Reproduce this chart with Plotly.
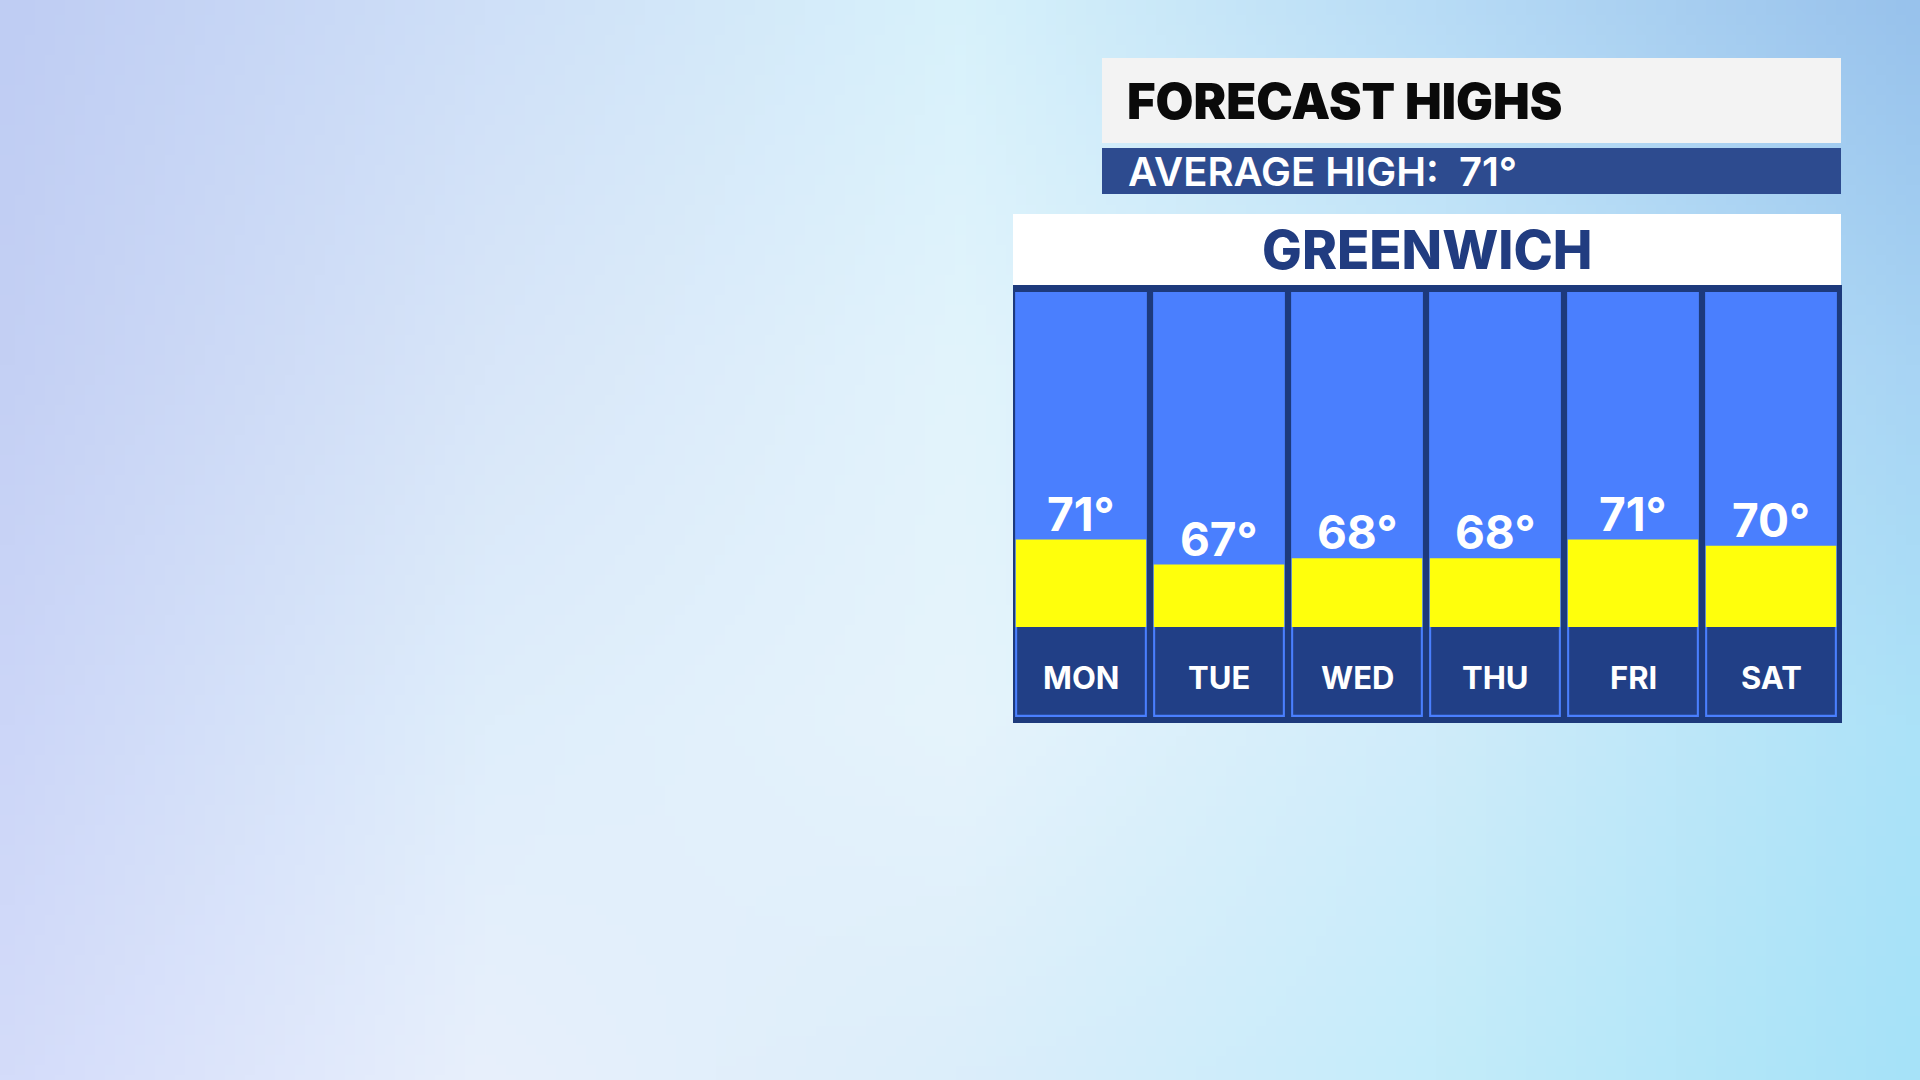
import base64
import struct
import zlib

import numpy as np
import plotly.graph_objects as go

# ---------------- data ----------------
days = ["MON", "TUE", "WED", "THU", "FRI", "SAT"]
highs = [71, 67, 68, 68, 71, 70]
title_text = "FORECAST HIGHS"
subtitle_text = "AVERAGE HIGH:\u00a0\u00a071°"
location_text = "GREENWICH"

# ---------------- style / layout constants ----------------
W, H = 1920, 1080
Y_FLOOR = 57.0      # temperature at the bottom of the yellow bars
Y_CEIL = 110.6      # temperature at the top of the blue columns

BLUE = "#4a7ffe"
YELLOW = "#ffff0c"
NAVY = "#213f86"
FRAME = "#1d3a7c"
SUB_BAR = "#2d4b8f"
GREEN_TXT = "#213c80"
FONT = "Inter"


def px(x0, x1=None):
    return x0 / W if x1 is None else (x0 / W, x1 / W)


def py(y):
    return 1 - y / H


# ---------------- background gradient image ----------------
bg_ctrl = [
    ["#bfcdf3", "#cfe0f8", "#d8f2fb", "#b8dcf6", "#98c2ec"],
    ["#c4d0f4", "#d8e6f9", "#e2f4fc", "#c8eafa", "#a8d4f4"],
    ["#ccd6f8", "#dfeefb", "#e6f4fc", "#d0ecfa", "#ace2f8"],
    ["#d4dcfa", "#e8f0fc", "#dceefa", "#c4ecfa", "#a6e2f8"],
]


def hex2rgb(h):
    h = h.lstrip("#")
    return [int(h[i:i + 2], 16) for i in (0, 2, 4)]


ctrl = np.array([[hex2rgb(c) for c in row] for row in bg_ctrl], dtype=float)
gh, gw = 108, 192
ys = np.linspace(0, ctrl.shape[0] - 1, gh)
xs = np.linspace(0, ctrl.shape[1] - 1, gw)
y0 = np.clip(np.floor(ys).astype(int), 0, ctrl.shape[0] - 2)
x0 = np.clip(np.floor(xs).astype(int), 0, ctrl.shape[1] - 2)
fy = (ys - y0)[:, None, None]
fx = (xs - x0)[None, :, None]
c00 = ctrl[y0][:, x0]
c01 = ctrl[y0][:, x0 + 1]
c10 = ctrl[y0 + 1][:, x0]
c11 = ctrl[y0 + 1][:, x0 + 1]
img = (c00 * (1 - fx) * (1 - fy) + c01 * fx * (1 - fy)
       + c10 * (1 - fx) * fy + c11 * fx * fy)
img = np.clip(img, 0, 255).astype(np.uint8)


def png_uri(arr):
    h, w, _ = arr.shape
    raw = b"".join(b"\x00" + arr[r].tobytes() for r in range(h))

    def chunk(t, d):
        return (struct.pack(">I", len(d)) + t + d
                + struct.pack(">I", zlib.crc32(t + d) & 0xFFFFFFFF))

    data = (b"\x89PNG\r\n\x1a\n"
            + chunk(b"IHDR", struct.pack(">IIBBBBB", w, h, 8, 2, 0, 0, 0))
            + chunk(b"IDAT", zlib.compress(raw, 9))
            + chunk(b"IEND", b""))
    return "data:image/png;base64," + base64.b64encode(data).decode()


# ---------------- figure ----------------
fig = go.Figure()

n = len(days)
# blue column backgrounds (top panel)
fig.add_trace(go.Bar(
    x=days, y=[Y_CEIL - Y_FLOOR] * n, base=[Y_FLOOR] * n,
    marker=dict(color=BLUE, line=dict(width=0)), width=0.955,
    hoverinfo="skip", showlegend=False, xaxis="x", yaxis="y"))
# yellow high-temperature bars
fig.add_trace(go.Bar(
    x=days, y=[h - Y_FLOOR for h in highs], base=[Y_FLOOR] * n,
    marker=dict(color=YELLOW, line=dict(width=0)), width=0.945,
    hovertemplate="%{x}: %{customdata}°<extra></extra>", customdata=highs,
    showlegend=False, xaxis="x", yaxis="y"))
# label cells (bottom panel)
fig.add_trace(go.Bar(
    x=days, y=[1] * n, base=[0] * n,
    marker=dict(color=BLUE, line=dict(width=0)), width=0.955,
    hoverinfo="skip", showlegend=False, xaxis="x2", yaxis="y2"))
fig.add_trace(go.Bar(
    x=days, y=[0.975] * n, base=[0.025] * n,
    marker=dict(color=NAVY, line=dict(width=0)), width=0.925,
    hoverinfo="skip", showlegend=False, xaxis="x2", yaxis="y2"))

annotations = []
for d, h in zip(days, highs):
    annotations.append(dict(
        x=d, y=h, xref="x", yref="y", text=f"{h}°", showarrow=False,
        xanchor="center", yanchor="bottom", yshift=-4,
        font=dict(family=FONT, size=46, color="white", weight=700)))
    annotations.append(dict(
        x=d, y=0.5, xref="x2", yref="y2", text=d, showarrow=False,
        xanchor="center", yanchor="middle", yshift=-5,
        font=dict(family=FONT, size=31, color="white", weight=700)))

annotations += [
    dict(x=px(1125), y=py(101), xref="paper", yref="paper", text=title_text,
         showarrow=False, xanchor="left", yanchor="middle",
         font=dict(family=FONT, size=49, color="#0a0a0a", weight=900)),
    dict(x=px(1126), y=py(171), xref="paper", yref="paper", text=subtitle_text,
         showarrow=False, xanchor="left", yanchor="middle",
         font=dict(family=FONT, size=40, color="white", weight=600)),
    dict(x=px(1427), y=py(250), xref="paper", yref="paper", text=location_text,
         showarrow=False, xanchor="center", yanchor="middle",
         font=dict(family=FONT, size=53, color=GREEN_TXT, weight=800)),
]


def rect(x0, x1, y0, y1, color):
    return dict(type="rect", xref="paper", yref="paper",
                x0=px(x0), x1=px(x1), y0=py(y1), y1=py(y0),
                fillcolor=color, line=dict(width=0), layer="below")


shapes = [
    rect(1102, 1841, 58, 143, "#f3f3f3"),
    rect(1102, 1841, 148, 194, SUB_BAR),
    rect(1013, 1841, 214, 286, "white"),
    rect(1013, 1842, 285, 723, FRAME),
]

xdom = [px(1012), px(1840)]
fig.update_layout(
    width=W, height=H, autosize=False,
    margin=dict(l=0, r=0, t=0, b=0, pad=0),
    paper_bgcolor="#d8e8fa", plot_bgcolor="rgba(0,0,0,0)",
    barmode="overlay", bargap=0.045,
    xaxis=dict(domain=xdom, categoryorder="array", categoryarray=days,
               showticklabels=False, showgrid=False, zeroline=False,
               showline=False, ticks="", fixedrange=True),
    yaxis=dict(domain=[py(627), py(292)], range=[Y_FLOOR, Y_CEIL],
               showticklabels=False, showgrid=False, zeroline=False,
               showline=False, ticks="", fixedrange=True),
    xaxis2=dict(domain=xdom, anchor="y2", matches="x", categoryorder="array",
                categoryarray=days, showticklabels=False, showgrid=False,
                zeroline=False, showline=False, ticks="", fixedrange=True),
    yaxis2=dict(domain=[py(717), py(627)], range=[0, 1], anchor="x2",
                showticklabels=False, showgrid=False, zeroline=False,
                showline=False, ticks="", fixedrange=True),
    annotations=annotations,
    shapes=shapes,
    images=[dict(source=png_uri(img), xref="paper", yref="paper",
                 x=0, y=1, sizex=1, sizey=1, xanchor="left", yanchor="top",
                 sizing="stretch", layer="below")],
    showlegend=False,
)

fig.write_html(
    "out.html",
    config={"displayModeBar": False},
    post_script="document.body.style.margin='0';"
                "document.body.style.overflow='hidden';",
)
